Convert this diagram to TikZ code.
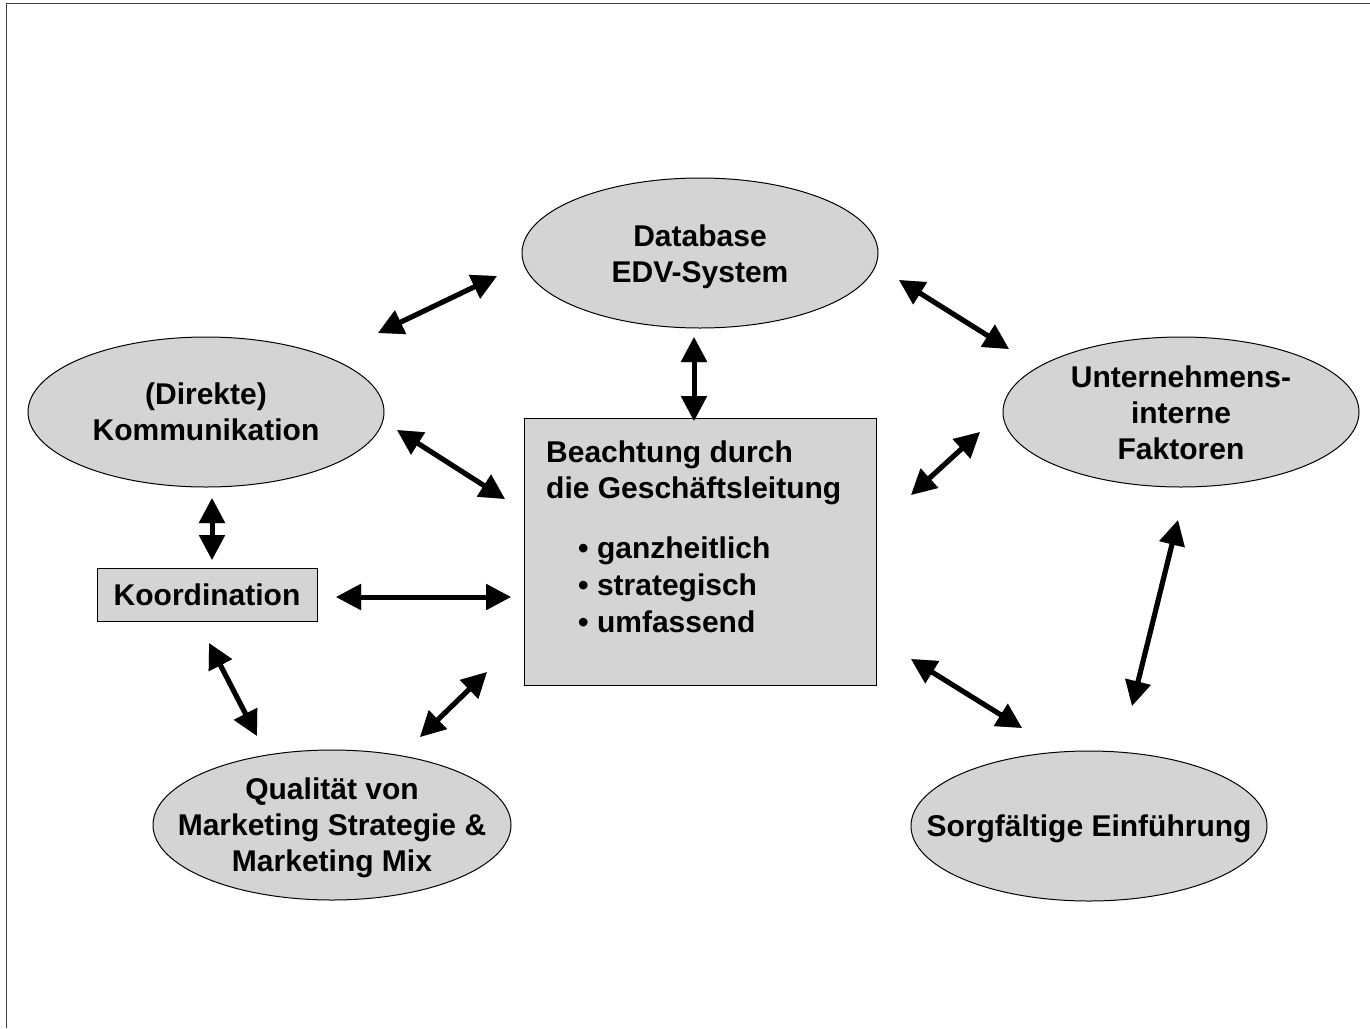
\documentclass[tikz,border=0pt]{standalone}
\usepackage{fontspec}
\setmainfont{Liberation Sans}
\usetikzlibrary{shapes.geometric,arrows.meta}
\definecolor{fillgray}{RGB}{212,212,212}
\definecolor{framegray}{RGB}{64,64,64}
\definecolor{shadegray}{RGB}{120,120,120}
\tikzset{
  lbl/.style={font=\bfseries\fontsize{30}{36}\selectfont, align=center, inner sep=0pt},
  oval/.style={ellipse, draw=black, line width=1pt, fill=fillgray,
               minimum width=356pt, minimum height=150pt, inner sep=0pt},
  panel/.style={rectangle, draw=black, line width=1pt, fill=fillgray, inner sep=0pt},
  dbl/.style={line width=5pt, black,
              {Triangle[length=25pt,width=25pt]}-{Triangle[length=25pt,width=25pt]}},
  dblshade/.style={dbl, shadegray, shift={(-1.6,-1.6)}},
}
\begin{document}
\begin{tikzpicture}[x=1pt,y=-1pt]
\useasboundingbox (0,0) rectangle (1370,1028);

% page frame (top and left edges)
\draw[framegray, line width=1.5pt] (6.5,1028) -- (6.5,3.5) -- (1370,3.5);

% ellipses
\node[oval] (db)     at (700,253)  {};
\node[oval] (komm)   at (206,412)  {};
\node[oval] (intern) at (1181,412) {};
\node[oval, minimum width=358pt] (qual) at (332,825) {};
\node[oval] (einf)   at (1089,826) {};

\node[lbl] (dbtxt)     at (700,257)  {Database\\EDV-System};
\node[lbl] (kommtxt)   at (206,412)  {(Direkte)\\Kommunikation};
\node[lbl] (interntxt) at (1181,413) {Unternehmens-\\interne\\Faktoren};
\node[lbl] (qualtxt)   at (332,828)  {Qualität von\\Marketing Strategie \&\\Marketing Mix};
\node[lbl] (einftxt)   at (1089,829) {Sorgfältige Einführung};

% central box
\node[panel, minimum width=352pt, minimum height=267pt] (mgmt) at (700,551.5) {};
\node[lbl, align=left, anchor=base west] (title) at (546,498) {Beachtung durch\\die Geschäftsleitung};
\node[lbl, align=left, anchor=base west] (bullets) at (578,632) {• ganzheitlich\\[1pt]• strategisch\\[1pt]• umfassend};

% coordination box
\node[panel, minimum width=220pt, minimum height=53pt,
      font=\bfseries\fontsize{30}{36}\selectfont] (koord) at (207,594.5) {Koordination};

% arrow end points
\coordinate (a1) at (378,333);  \coordinate (b1) at (497,276);
\coordinate (a2) at (899,280);  \coordinate (b2) at (1009,349);
\coordinate (a3) at (694,337);  \coordinate (b3) at (694,421);
\coordinate (a4) at (397,430);  \coordinate (b4) at (505,499);
\coordinate (a5) at (980,432);  \coordinate (b5) at (911,495);
\coordinate (a6) at (212,498);  \coordinate (b6) at (212,560);
\coordinate (a7) at (336,597);  \coordinate (b7) at (511,597);
\coordinate (a8) at (209,643);  \coordinate (b8) at (257,736);
\coordinate (a9) at (487,672);  \coordinate (b9) at (420,737);
\coordinate (a10) at (911,659); \coordinate (b10) at (1022,728);
\coordinate (a11) at (1132,706); \coordinate (b11) at (1178,520);

% double-headed arrows with a soft grey edge
\foreach \i in {1,...,11} {
  \draw[dblshade] (a\i) -- (b\i);
  \draw[dbl] (a\i) -- (b\i);
}
\end{tikzpicture}
\end{document}
